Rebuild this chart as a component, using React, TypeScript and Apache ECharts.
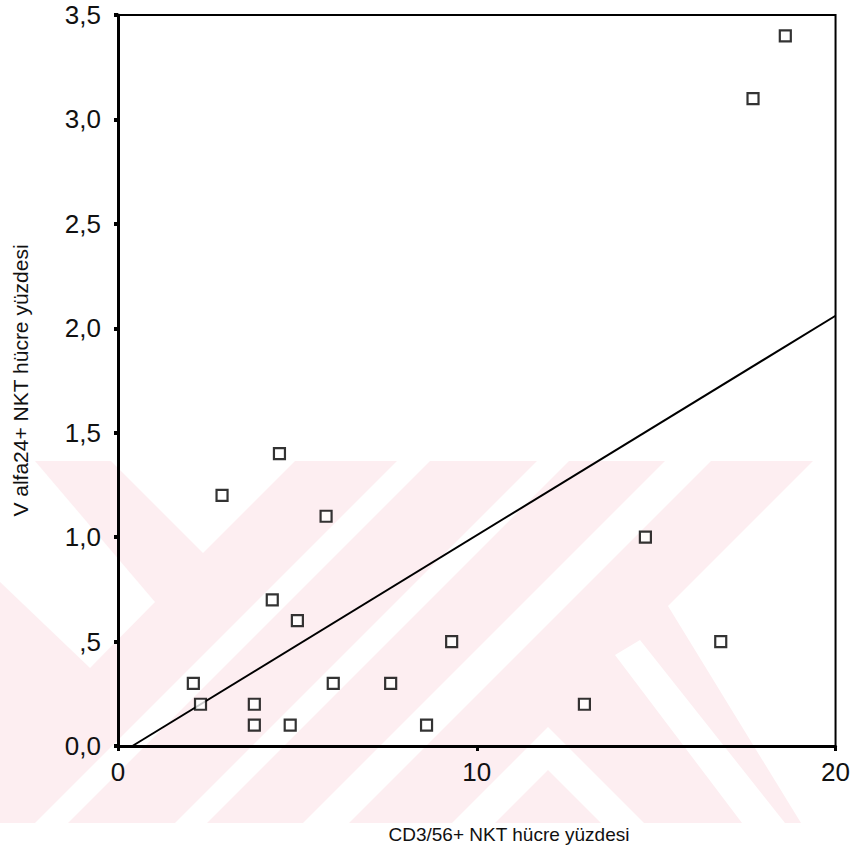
import React, { useEffect, useRef } from "react";
import * as echarts from "echarts";

// Scatter data
const xValues = [18.6, 17.7, 4.5, 2.9, 5.8, 4.3, 5.0, 9.3, 2.1, 6.0, 7.6, 2.3, 3.8, 3.8, 4.8, 8.6, 14.7, 16.8, 13.0];
const yValues = [3.4, 3.1, 1.4, 1.2, 1.1, 0.7, 0.6, 0.5, 0.3, 0.3, 0.3, 0.2, 0.2, 0.1, 0.1, 0.1, 1.0, 0.5, 0.2];

// Fit line end points
const fitLineX = [0.4, 20];
const fitLineY = [0, 2.06];

// Tick labels
const yTickLabels: Record<string, string> = {
  "0": "0,0", "0.5": ",5", "1": "1,0", "1.5": "1,5", "2": "2,0", "2.5": "2,5", "3": "3,0", "3.5": "3,5",
};
const xTickLabels: Record<string, string> = { "0": "0", "10": "10", "20": "20" };

const xTitle = "CD3/56+ NKT hücre yüzdesi";
const yTitle = "V alfa24+ NKT hücre yüzdesi";

const PINK = "#fdeef1";
const FONT = "'Liberation Sans', Arial, sans-serif";

function watermark() {
  const white = (pts: number[][]) => ({
    type: "polygon",
    silent: true,
    z: -1,
    shape: { points: pts },
    style: { fill: "#ffffff" },
  });
  return [
    { type: "rect", silent: true, z: -2, shape: { x: 0, y: 461, width: 853, height: 362 }, style: { fill: PINK } },
    white([[0, 461], [35, 461], [155, 602], [90, 668], [0, 582]]),
    white([[111, 461], [295, 461], [203, 553]]),
    white([[397, 461], [430, 461], [68, 823], [35, 823]]),
    white([[537, 461], [569, 461], [207, 823], [175, 823]]),
    white([[665, 461], [711, 461], [349, 823], [303, 823]]),
    white([[813, 461], [853, 461], [853, 823], [801, 823], [668, 606]]),
    white([[615, 655], [640, 640], [785, 823], [742, 823]]),
    white([[548, 727], [644, 823], [601, 823], [548, 770], [495, 823], [452, 823]]),
    {
      type: "text",
      z: 5,
      x: 509,
      y: 834,
      style: {
        text: xTitle,
        fill: "#111",
        font: `19px ${FONT}`,
        align: "center",
        verticalAlign: "middle",
      },
    },
  ];
}

export default function App() {
  const ref = useRef<HTMLDivElement>(null);
  useEffect(() => {
    document.body.style.margin = "0";
    const chart = echarts.init(ref.current!, undefined, { renderer: "svg" });
    chart.setOption({
      animation: false,
      backgroundColor: "#ffffff",
      graphic: watermark(),
      grid: {
        left: 118, right: 16, top: 15, bottom: 121,
        show: true, borderColor: "#000", borderWidth: 2, backgroundColor: "transparent",
      },
      xAxis: {
        type: "value", min: 0, max: 20, interval: 10,
        axisLine: { show: true, lineStyle: { color: "#000", width: 3 } },
        axisTick: { show: true, length: 5, lineStyle: { color: "#000", width: 3 } },
        splitLine: { show: false },
        axisLabel: {
          fontFamily: FONT, fontSize: 26, color: "#111", margin: 13,
          formatter: (v: number) => xTickLabels[String(v)] ?? "",
        },
      },
      yAxis: {
        type: "value", min: 0, max: 3.5, interval: 0.5,
        name: yTitle, nameLocation: "middle", nameGap: 87,
        nameTextStyle: { fontFamily: FONT, fontSize: 21, color: "#111" },
        axisLine: { show: true, lineStyle: { color: "#000", width: 3 } },
        axisTick: { show: true, length: 4, lineStyle: { color: "#000", width: 4 } },
        splitLine: { show: false },
        axisLabel: {
          fontFamily: FONT, fontSize: 26, color: "#111", margin: 17,
          formatter: (v: number) => yTickLabels[String(v)] ?? "",
        },
      },
      series: [
        {
          type: "line",
          data: fitLineX.map((x, i) => [x, fitLineY[i]]),
          showSymbol: false,
          symbol: "none",
          lineStyle: { color: "#000", width: 2 },
          z: 3,
        },
        {
          type: "scatter",
          data: xValues.map((x, i) => [x, yValues[i]]),
          symbol: "rect",
          symbolSize: 11,
          itemStyle: { color: "#ffffff", borderColor: "#000", borderWidth: 2.2 },
          z: 4,
        },
      ],
    });
    return () => chart.dispose();
  }, []);
  return <div ref={ref} style={{ width: 853, height: 867 }} />;
}
